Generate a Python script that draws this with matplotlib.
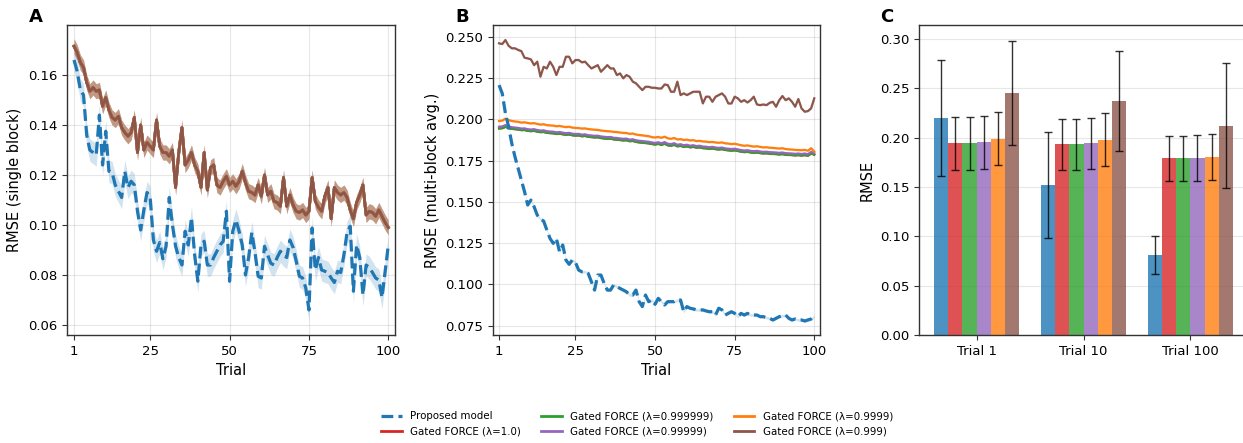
import numpy as np
import matplotlib
matplotlib.use('Agg')
import matplotlib.pyplot as plt

# ---- data ----
trials = np.arange(1, 101)

labels = ['Proposed model', 'Gated FORCE (\u03bb=1.0)', 'Gated FORCE (\u03bb=0.999999)',
          'Gated FORCE (\u03bb=0.99999)', 'Gated FORCE (\u03bb=0.9999)', 'Gated FORCE (\u03bb=0.999)']
colors = ['#1f77b4', '#d62728', '#2ca02c', '#9467bd', '#ff7f0e', '#8c564b']

# panel A: single block RMSE
proposed_A = [0.166, 0.1615, 0.154, 0.152, 0.136, 0.130, 0.129, 0.128, 0.144, 0.124,
              0.1375, 0.1215, 0.121, 0.116, 0.1135, 0.111, 0.1215, 0.115, 0.1175, 0.116,
              0.1055, 0.098, 0.106, 0.113, 0.111, 0.094, 0.0895, 0.093, 0.0865, 0.0915,
              0.111, 0.100, 0.0915, 0.087, 0.084, 0.0975, 0.092, 0.103, 0.088, 0.0775,
              0.092, 0.0935, 0.084, 0.084, 0.087, 0.0895, 0.092, 0.0935, 0.1055, 0.0775,
              0.0975, 0.102, 0.0975, 0.092, 0.080, 0.087, 0.097, 0.089, 0.0795, 0.0788,
              0.0915, 0.088, 0.0847, 0.084, 0.087, 0.0895, 0.088, 0.087, 0.094, 0.091,
              0.0855, 0.0795, 0.0788, 0.0748, 0.066, 0.0988, 0.082, 0.087, 0.082, 0.0815,
              0.081, 0.0788, 0.077, 0.0815, 0.081, 0.088, 0.097, 0.0995, 0.0735, 0.092,
              0.087, 0.072, 0.084, 0.083, 0.081, 0.0788, 0.078, 0.071, 0.0815, 0.092]
proposed_A_sem = 0.0045

gated_A = [0.1715, 0.169, 0.165, 0.163, 0.157, 0.1535, 0.155, 0.1535, 0.154, 0.1475,
           0.151, 0.146, 0.143, 0.142, 0.1435, 0.139, 0.137, 0.1355, 0.137, 0.143,
           0.129, 0.140, 0.130, 0.133, 0.1315, 0.130, 0.142, 0.1315, 0.129, 0.129,
           0.1275, 0.130, 0.115, 0.129, 0.139, 0.124, 0.126, 0.129, 0.124, 0.1215,
           0.115, 0.129, 0.114, 0.123, 0.124, 0.116, 0.115, 0.1175, 0.1195, 0.116,
           0.1175, 0.1155, 0.1175, 0.1215, 0.117, 0.1135, 0.113, 0.112, 0.116, 0.1115,
           0.120, 0.112, 0.1135, 0.1095, 0.109, 0.1075, 0.119, 0.1075, 0.112, 0.108,
           0.1055, 0.105, 0.106, 0.104, 0.1055, 0.119, 0.1095, 0.107, 0.1055, 0.1115,
           0.115, 0.1025, 0.115, 0.113, 0.112, 0.113, 0.111, 0.106, 0.1025, 0.109,
           0.112, 0.116, 0.104, 0.1055, 0.105, 0.1035, 0.106, 0.1035, 0.101, 0.099]
gated_A_sem = 0.003

# panel B: multi-block average RMSE
proposed_B = [0.2207, 0.2157, 0.2036, 0.1955, 0.1854, 0.1773, 0.1703, 0.1632, 0.1562, 0.1481,
              0.1511, 0.1471, 0.1420, 0.1396, 0.1384, 0.1330, 0.1279, 0.1249, 0.1279, 0.1198,
              0.1239, 0.1148, 0.1122, 0.1148, 0.1134, 0.1087, 0.1077, 0.1077, 0.1067, 0.1017,
              0.0966, 0.1057, 0.1057, 0.1007, 0.0966, 0.0966, 0.0997, 0.0987, 0.0976, 0.0966,
              0.0956, 0.0936, 0.0936, 0.0966, 0.0896, 0.0866, 0.0936, 0.0896, 0.0906, 0.0880,
              0.0916, 0.0896, 0.0876, 0.0896, 0.0896, 0.0896, 0.0906, 0.0906, 0.0835, 0.0866,
              0.0856, 0.0852, 0.0846, 0.0846, 0.0846, 0.0840, 0.0835, 0.0835, 0.0815, 0.0856,
              0.0846, 0.0815, 0.0825, 0.0835, 0.0825, 0.0805, 0.0825, 0.0815, 0.0825, 0.0815,
              0.0815, 0.0815, 0.0805, 0.0805, 0.0799, 0.0795, 0.0785, 0.0795, 0.0805, 0.0811,
              0.0815, 0.0795, 0.0785, 0.0791, 0.0785, 0.0785, 0.0779, 0.0785, 0.0791, 0.0805]

brown_B = [0.2460, 0.2456, 0.2480, 0.2445, 0.2430, 0.2430, 0.2420, 0.2413, 0.2373, 0.2369,
           0.2363, 0.2328, 0.2349, 0.2258, 0.2318, 0.2308, 0.2349, 0.2318, 0.2268, 0.2318,
           0.2318, 0.2379, 0.2379, 0.2339, 0.2359, 0.2359, 0.2345, 0.2349, 0.2328, 0.2308,
           0.2318, 0.2328, 0.2288, 0.2308, 0.2328, 0.2308, 0.2308, 0.2268, 0.2278, 0.2248,
           0.2268, 0.2258, 0.2228, 0.2218, 0.2197, 0.2177, 0.2197, 0.2197, 0.2191, 0.2191,
           0.2187, 0.2187, 0.2211, 0.2207, 0.2167, 0.2167, 0.2228, 0.2147, 0.2157, 0.2147,
           0.2157, 0.2167, 0.2167, 0.2167, 0.2096, 0.2137, 0.2137, 0.2106, 0.2137, 0.2147,
           0.2157, 0.2137, 0.2096, 0.2096, 0.2137, 0.2127, 0.2106, 0.2116, 0.2102, 0.2116,
           0.2137, 0.2090, 0.2086, 0.2090, 0.2086, 0.2100, 0.2106, 0.2076, 0.2116, 0.2141,
           0.2116, 0.2127, 0.2106, 0.2076, 0.2123, 0.2066, 0.2046, 0.2050, 0.2066, 0.2127]

orange_B = [0.1990, 0.1992, 0.2004, 0.1995, 0.1990, 0.1987, 0.1985, 0.1980, 0.1982, 0.1978,
            0.1975, 0.1977, 0.1972, 0.1968, 0.1970, 0.1965, 0.1963, 0.1962, 0.1958, 0.1960,
            0.1956, 0.1953, 0.1955, 0.1950, 0.1948, 0.1947, 0.1944, 0.1945, 0.1941, 0.1939,
            0.1937, 0.1936, 0.1932, 0.1930, 0.1928, 0.1927, 0.1924, 0.1923, 0.1920, 0.1918,
            0.1917, 0.1912, 0.1914, 0.1908, 0.1905, 0.1903, 0.1900, 0.1898, 0.1892, 0.1890,
            0.1893, 0.1888, 0.1895, 0.1885, 0.1882, 0.1887, 0.1878, 0.1880, 0.1875, 0.1877,
            0.1872, 0.1874, 0.1868, 0.1870, 0.1866, 0.1865, 0.1862, 0.1863, 0.1860, 0.1858,
            0.1860, 0.1855, 0.1853, 0.1850, 0.1852, 0.1848, 0.1843, 0.1840, 0.1842, 0.1838,
            0.1835, 0.1837, 0.1833, 0.1830, 0.1831, 0.1828, 0.1827, 0.1825, 0.1823, 0.1825,
            0.1820, 0.1818, 0.1817, 0.1815, 0.1814, 0.1813, 0.1815, 0.1810, 0.1825, 0.1805]

purple_B = [0.1955, 0.1957, 0.1965, 0.1958, 0.1952, 0.1950, 0.1948, 0.1944, 0.1945, 0.1940,
            0.1938, 0.1940, 0.1935, 0.1932, 0.1933, 0.1928, 0.1926, 0.1925, 0.1921, 0.1923,
            0.1919, 0.1916, 0.1918, 0.1913, 0.1911, 0.1912, 0.1907, 0.1909, 0.1904, 0.1902,
            0.1900, 0.1901, 0.1896, 0.1894, 0.1892, 0.1893, 0.1888, 0.1887, 0.1884, 0.1882,
            0.1883, 0.1877, 0.1879, 0.1873, 0.1870, 0.1868, 0.1866, 0.1864, 0.1860, 0.1857,
            0.1861, 0.1855, 0.1862, 0.1852, 0.1850, 0.1855, 0.1846, 0.1849, 0.1843, 0.1846,
            0.1840, 0.1843, 0.1838, 0.1840, 0.1835, 0.1834, 0.1831, 0.1833, 0.1829, 0.1827,
            0.1829, 0.1824, 0.1822, 0.1820, 0.1822, 0.1818, 0.1814, 0.1811, 0.1813, 0.1809,
            0.1807, 0.1809, 0.1805, 0.1803, 0.1804, 0.1801, 0.1800, 0.1799, 0.1797, 0.1799,
            0.1795, 0.1794, 0.1793, 0.1791, 0.1793, 0.1790, 0.1793, 0.1789, 0.1803, 0.1795]

green_B = [0.1945, 0.1947, 0.1955, 0.1948, 0.1943, 0.1941, 0.1939, 0.1935, 0.1936, 0.1931,
           0.1929, 0.1931, 0.1926, 0.1923, 0.1924, 0.1919, 0.1917, 0.1916, 0.1912, 0.1914,
           0.1910, 0.1907, 0.1909, 0.1904, 0.1902, 0.1903, 0.1898, 0.1900, 0.1895, 0.1893,
           0.1891, 0.1892, 0.1887, 0.1885, 0.1883, 0.1884, 0.1879, 0.1878, 0.1875, 0.1873,
           0.1874, 0.1868, 0.1870, 0.1864, 0.1861, 0.1859, 0.1857, 0.1855, 0.1851, 0.1848,
           0.1852, 0.1846, 0.1853, 0.1843, 0.1841, 0.1846, 0.1837, 0.1840, 0.1834, 0.1837,
           0.1831, 0.1834, 0.1829, 0.1831, 0.1826, 0.1825, 0.1822, 0.1824, 0.1820, 0.1818,
           0.1820, 0.1815, 0.1813, 0.1811, 0.1813, 0.1809, 0.1805, 0.1802, 0.1804, 0.1800,
           0.1798, 0.1800, 0.1796, 0.1794, 0.1795, 0.1792, 0.1791, 0.1790, 0.1788, 0.1790,
           0.1786, 0.1785, 0.1784, 0.1782, 0.1784, 0.1781, 0.1784, 0.1780, 0.1794, 0.1786]
red_B = green_B  # red sits right under green in panel B

# panel C: RMSE at selected trials (mean, error half-width)
groups = ['Trial 1', 'Trial 10', 'Trial 100']
bar_mean = [[0.220, 0.152, 0.081],
            [0.194, 0.193, 0.179],
            [0.194, 0.193, 0.179],
            [0.195, 0.194, 0.1795],
            [0.199, 0.198, 0.180],
            [0.245, 0.237, 0.212]]
bar_err = [[0.0585, 0.054, 0.019],
           [0.0265, 0.0255, 0.023],
           [0.0265, 0.0255, 0.023],
           [0.027, 0.026, 0.0235],
           [0.027, 0.027, 0.0235],
           [0.053, 0.051, 0.0635]]

# ---- figure ----
plt.rcParams['font.family'] = 'DejaVu Sans'
plt.rcParams['axes.edgecolor'] = '#333333'
plt.rcParams['axes.linewidth'] = 1.0
plt.rcParams['xtick.color'] = '#333333'
plt.rcParams['ytick.color'] = '#333333'
plt.rcParams['xtick.labelcolor'] = 'black'
plt.rcParams['ytick.labelcolor'] = 'black'

fig = plt.figure(figsize=(12.43, 4.43), dpi=100)
W, H = 1243.0, 443.0

def box(left, right, top=25, bottom=335):
    return [left / W, 1 - bottom / H, (right - left) / W, (bottom - top) / H]

axA = fig.add_axes(box(67, 395))
axB = fig.add_axes(box(493, 820))
axC = fig.add_axes(box(919, 1248))

# A
handles = []
for i in range(1, 6):
    axA.fill_between(trials, np.array(gated_A) - gated_A_sem, np.array(gated_A) + gated_A_sem,
                     color=colors[i], alpha=0.2, lw=0)
    h, = axA.plot(trials, gated_A, color=colors[i], lw=2)
    handles.append(h)
axA.fill_between(trials, np.array(proposed_A) - proposed_A_sem, np.array(proposed_A) + proposed_A_sem,
                 color=colors[0], alpha=0.2, lw=0)
h0, = axA.plot(trials, proposed_A, color=colors[0], lw=2.3, ls='--')
handles.insert(0, h0)
axA.set_xlim(-1.2, 102.1)
axA.set_ylim(0.056, 0.180)
axA.set_yticks([0.06, 0.08, 0.10, 0.12, 0.14, 0.16])
axA.set_ylabel('RMSE (single block)', fontsize=10.5)

# B
series_B = [red_B, green_B, purple_B, orange_B, brown_B]
for i, s in enumerate(series_B):
    axB.fill_between(trials, np.array(s) - 0.0006, np.array(s) + 0.0006,
                     color=colors[i + 1], alpha=0.2, lw=0)
    axB.plot(trials, s, color=colors[i + 1], lw=1.6)
axB.fill_between(trials, np.array(proposed_B) - 0.0008, np.array(proposed_B) + 0.0008,
                 color=colors[0], alpha=0.2, lw=0)
axB.plot(trials, proposed_B, color=colors[0], lw=2.3, ls='--')
axB.set_xlim(-0.9, 101.8)
axB.set_ylim(0.0694, 0.2571)
axB.set_yticks([0.075, 0.100, 0.125, 0.150, 0.175, 0.200, 0.225, 0.250])
axB.set_ylabel('RMSE (multi-block avg.)', fontsize=10.5)

for ax in (axA, axB):
    ax.set_xticks([1, 25, 50, 75, 100])
    ax.set_xlabel('Trial', fontsize=10.5)

# C
x = np.arange(len(groups))
bw = 0.8 / 6
for i in range(6):
    axC.bar(x + (i - 2.5) * bw, bar_mean[i], bw, yerr=bar_err[i], color=colors[i],
            alpha=0.8, capsize=3, error_kw=dict(elinewidth=1, ecolor='black', alpha=0.8))
axC.set_xticks(x)
axC.set_xticklabels(groups)
axC.set_ylim(0, 0.314)
axC.set_yticks([0.0, 0.05, 0.10, 0.15, 0.20, 0.25, 0.30])
axC.set_ylabel('RMSE', fontsize=10.5)
axC.grid(axis='y', alpha=0.3)
axC.set_axisbelow(True)

for ax in (axA, axB):
    ax.grid(alpha=0.3)
for ax in (axA, axB, axC):
    ax.tick_params(labelsize=9.5)

for lab, xx in zip(['A', 'B', 'C'], [29, 455, 880]):
    fig.text(xx / W, 1 - 17 / H, lab, fontsize=13, fontweight='bold', va='center', ha='left')

fig.legend(handles, labels, loc='center', ncol=3, frameon=False, fontsize=7.4,
           bbox_to_anchor=(637 / W, 1 - 424 / H))

fig.savefig('out.png', dpi=100)
